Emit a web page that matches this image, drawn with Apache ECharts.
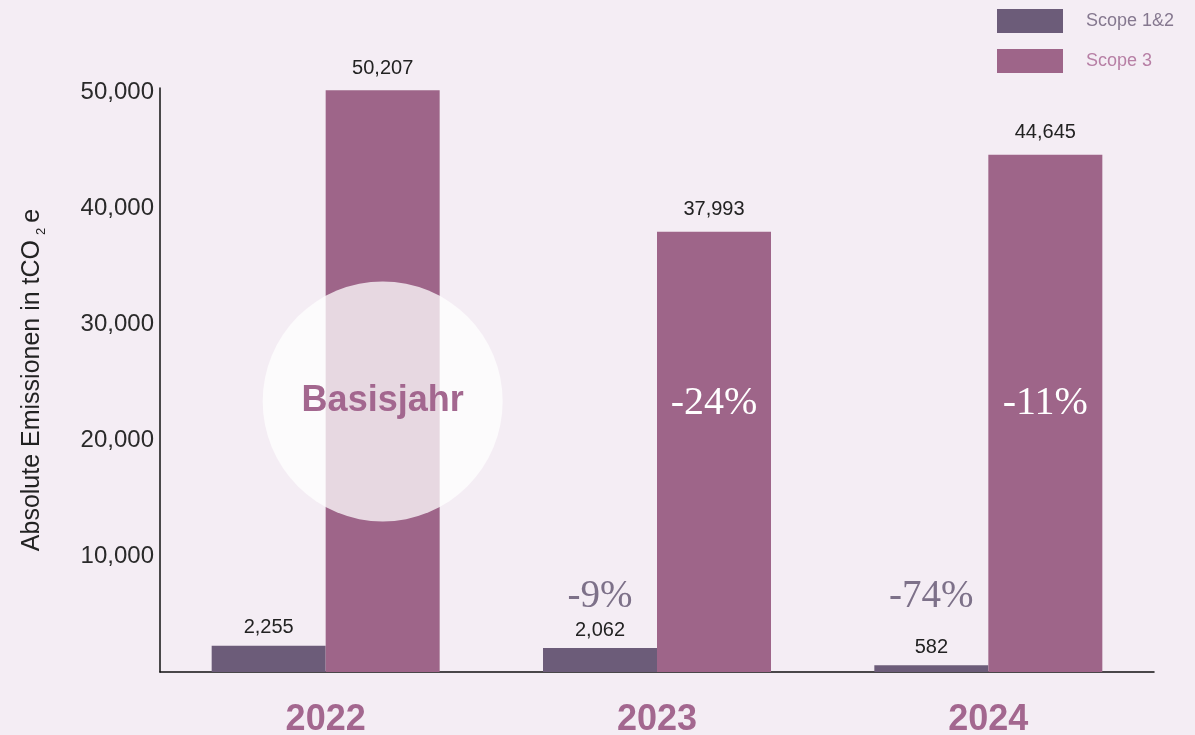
<!DOCTYPE html>
<html>
<head>
<meta charset="utf-8">
<script src="https://cdn.jsdelivr.net/npm/echarts@6/dist/echarts.min.js"></script>
<style>
  html, body { margin: 0; padding: 0; background: #f4edf4; }
  #chart { width: 1195px; height: 735px; }
</style>
</head>
<body>
<div id="chart"></div>
<script>
const years = ['2022', '2023', '2024']
const scope12 = [2255, 2062, 582]
const scope3 = [50207, 37993, 44645]
const yTicks = [10000, 20000, 30000, 40000, 50000]
// change vs. base year, written into / above the bars
const change12 = ['', '-9%', '-74%']
const change3 = ['', '-24%', '-11%']
const baseYearLabel = 'Basisjahr'

const darkColor = '#6c5c79'
const pinkColor = '#9e6589'
const sans = 'Liberation Sans'
const serif = 'Liberation Serif'

const chart = echarts.init(document.getElementById('chart'))

function fmt(v) {
  return v.toLocaleString('en-US')
}

function changePoints(list, y) {
  const out = []
  list.forEach((txt, i) => {
    if (txt) out.push({ name: txt, coord: [years[i], y] })
  })
  return out
}

chart.setOption({
  animation: false,
  backgroundColor: '#f4edf4',
  legend: {
    orient: 'vertical',
    left: 997,
    top: 9,
    padding: 0,
    itemWidth: 66,
    itemHeight: 24,
    itemGap: 16,
    icon: 'rect',
    textStyle: { fontFamily: sans, fontSize: 18, padding: [0, 0, 0, 18] },
    data: [
      { name: 'Scope 1&2', textStyle: { color: '#85788f' } },
      { name: 'Scope 3', textStyle: { color: '#b77fa5' } }
    ]
  },
  grid: {
    left: 160,
    right: 41,
    top: 88,
    bottom: 63,
    outerBoundsMode: 'none'
  },
  xAxis: {
    type: 'category',
    data: years,
    axisLine: { lineStyle: { color: '#111', width: 1.5 } },
    axisTick: { show: false },
    axisLabel: {
      margin: 30,
      fontFamily: sans,
      fontSize: 36,
      fontWeight: 'bold',
      color: '#a3678f'
    }
  },
  yAxis: {
    type: 'value',
    min: 0,
    max: 50400,
    interval: 10000,
    name: 'Absolute Emissionen in tCO{sub|2}e',
    nameLocation: 'middle',
    nameGap: 112,
    nameRotate: 90,
    nameTextStyle: {
      fontFamily: sans,
      fontSize: 25,
      color: '#222',
      lineHeight: 32,
      rich: {
        sub: { fontFamily: sans, fontSize: 13, color: '#222', verticalAlign: 'bottom', lineHeight: 14, padding: [0, 5, 0, 5] }
      }
    },
    axisLine: { show: true, lineStyle: { color: '#111', width: 1.5 } },
    axisTick: { show: false },
    splitLine: { show: false },
    axisLabel: {
      customValues: yTicks,
      margin: 6,
      fontFamily: sans,
      fontSize: 24,
      color: '#2a2a2a',
      formatter: v => fmt(v)
    }
  },
  series: [
    {
      name: 'Scope 1&2',
      type: 'bar',
      data: scope12,
      barWidth: 114,
      barGap: '0%',
      itemStyle: { color: darkColor },
      label: {
        show: true,
        position: 'top',
        distance: 8,
        fontFamily: sans,
        fontSize: 20,
        color: '#222',
        formatter: p => fmt(p.value)
      },
      markPoint: {
        symbol: 'circle',
        symbolSize: 1,
        itemStyle: { color: 'rgba(0,0,0,0)' },
        label: {
          show: true,
          position: 'inside',
          formatter: p => p.name,
          fontFamily: serif,
          fontSize: 39,
          color: '#7d7189'
        },
        data: changePoints(change12, 6500)
      }
    },
    {
      name: 'Scope 3',
      type: 'bar',
      data: scope3,
      barWidth: 114,
      itemStyle: { color: pinkColor },
      label: {
        show: true,
        position: 'top',
        distance: 12,
        fontFamily: sans,
        fontSize: 20,
        color: '#222',
        formatter: p => fmt(p.value)
      },
      markPoint: {
        data: [
          {
            name: baseYearLabel,
            coord: [years[0], 23350],
            symbol: 'circle',
            symbolSize: 240,
            itemStyle: { color: 'rgba(255,255,255,0.75)' },
            label: {
              show: true,
              position: 'inside',
              formatter: p => p.name,
              fontFamily: sans,
              fontSize: 36,
              fontWeight: 'bold',
              color: '#a3678f'
            }
          }
        ].concat(changePoints(change3, 23200).map(d => Object.assign(d, {
          symbol: 'circle',
          symbolSize: 1,
          itemStyle: { color: 'rgba(0,0,0,0)' },
          label: {
            show: true,
            position: 'inside',
            formatter: p => p.name,
            fontFamily: serif,
            fontSize: 40,
            color: '#ffffff'
          }
        })))
      }
    }
  ]
})
</script>
</body>
</html>
